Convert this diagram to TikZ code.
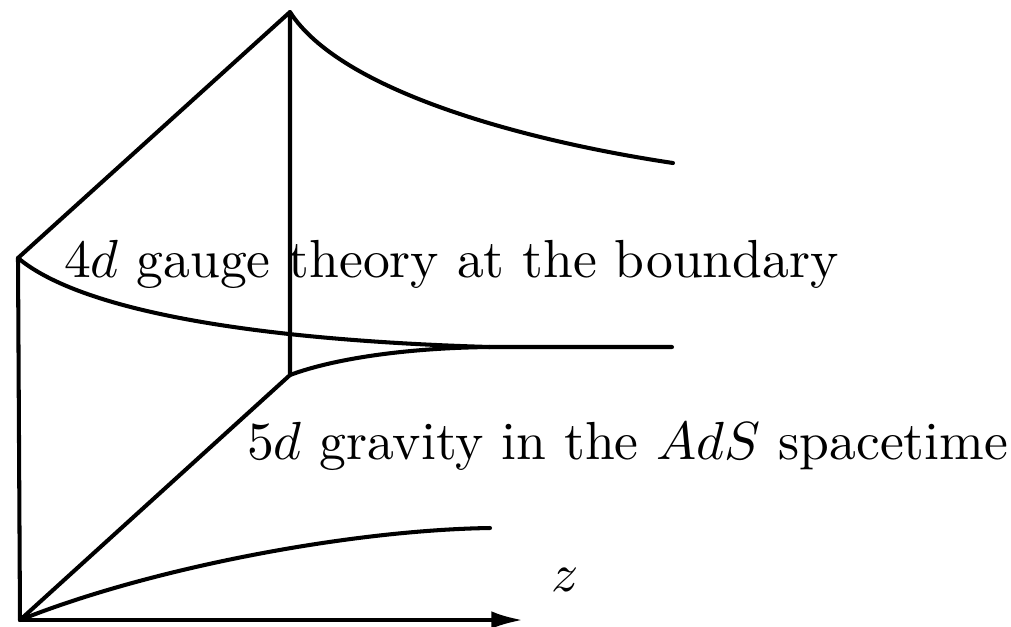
\documentclass[tikz,border=0pt]{standalone}
\usetikzlibrary{arrows.meta}

\begin{document}
\begin{tikzpicture}[
    x=0.01cm, y=-0.01cm,
    edge/.style={line width=1.15pt, line cap=round, line join=round},
    caption/.style={anchor=base west, inner sep=0pt, scale=1.525}
]
    \useasboundingbox (0,0) rectangle (1011,626);

    \coordinate (O)  at (20,620);
    \coordinate (B)  at (18,258);
    \coordinate (A)  at (290,12);
    \coordinate (J)  at (290,375);
    \coordinate (M)  at (490,347);
    \coordinate (E1) at (673,163);
    \coordinate (E2) at (672,347);
    \coordinate (E3) at (490,528);
    \coordinate (Z)  at (523,620);

    % boundary and bulk edges
    \draw[edge] (O) -- (B) -- (A) -- (J) -- (O);
    \draw[edge,-{Latex[length=9pt,width=5pt]}] (O) -- (Z);

    % curves
    \draw[edge] (A) .. controls (340,90) and (520,140) .. (E1);
    \draw[edge] (B) .. controls (80,310) and (250,340) .. (M) -- (E2);
    \draw[edge] (J) .. controls (330,360) and (400,348) .. (M);
    \draw[edge] (O) .. controls (150,568) and (350,530) .. (E3);

    % labels
    \node[caption] (t4) at (63,277) {$4d$ gauge theory at the boundary};
    \node[caption] (t5) at (246,459) {$5d$ gravity in the $AdS$ spacetime};
    \node[scale=1.525] (zl) at (565,580) {$z$};
\end{tikzpicture}
\end{document}
